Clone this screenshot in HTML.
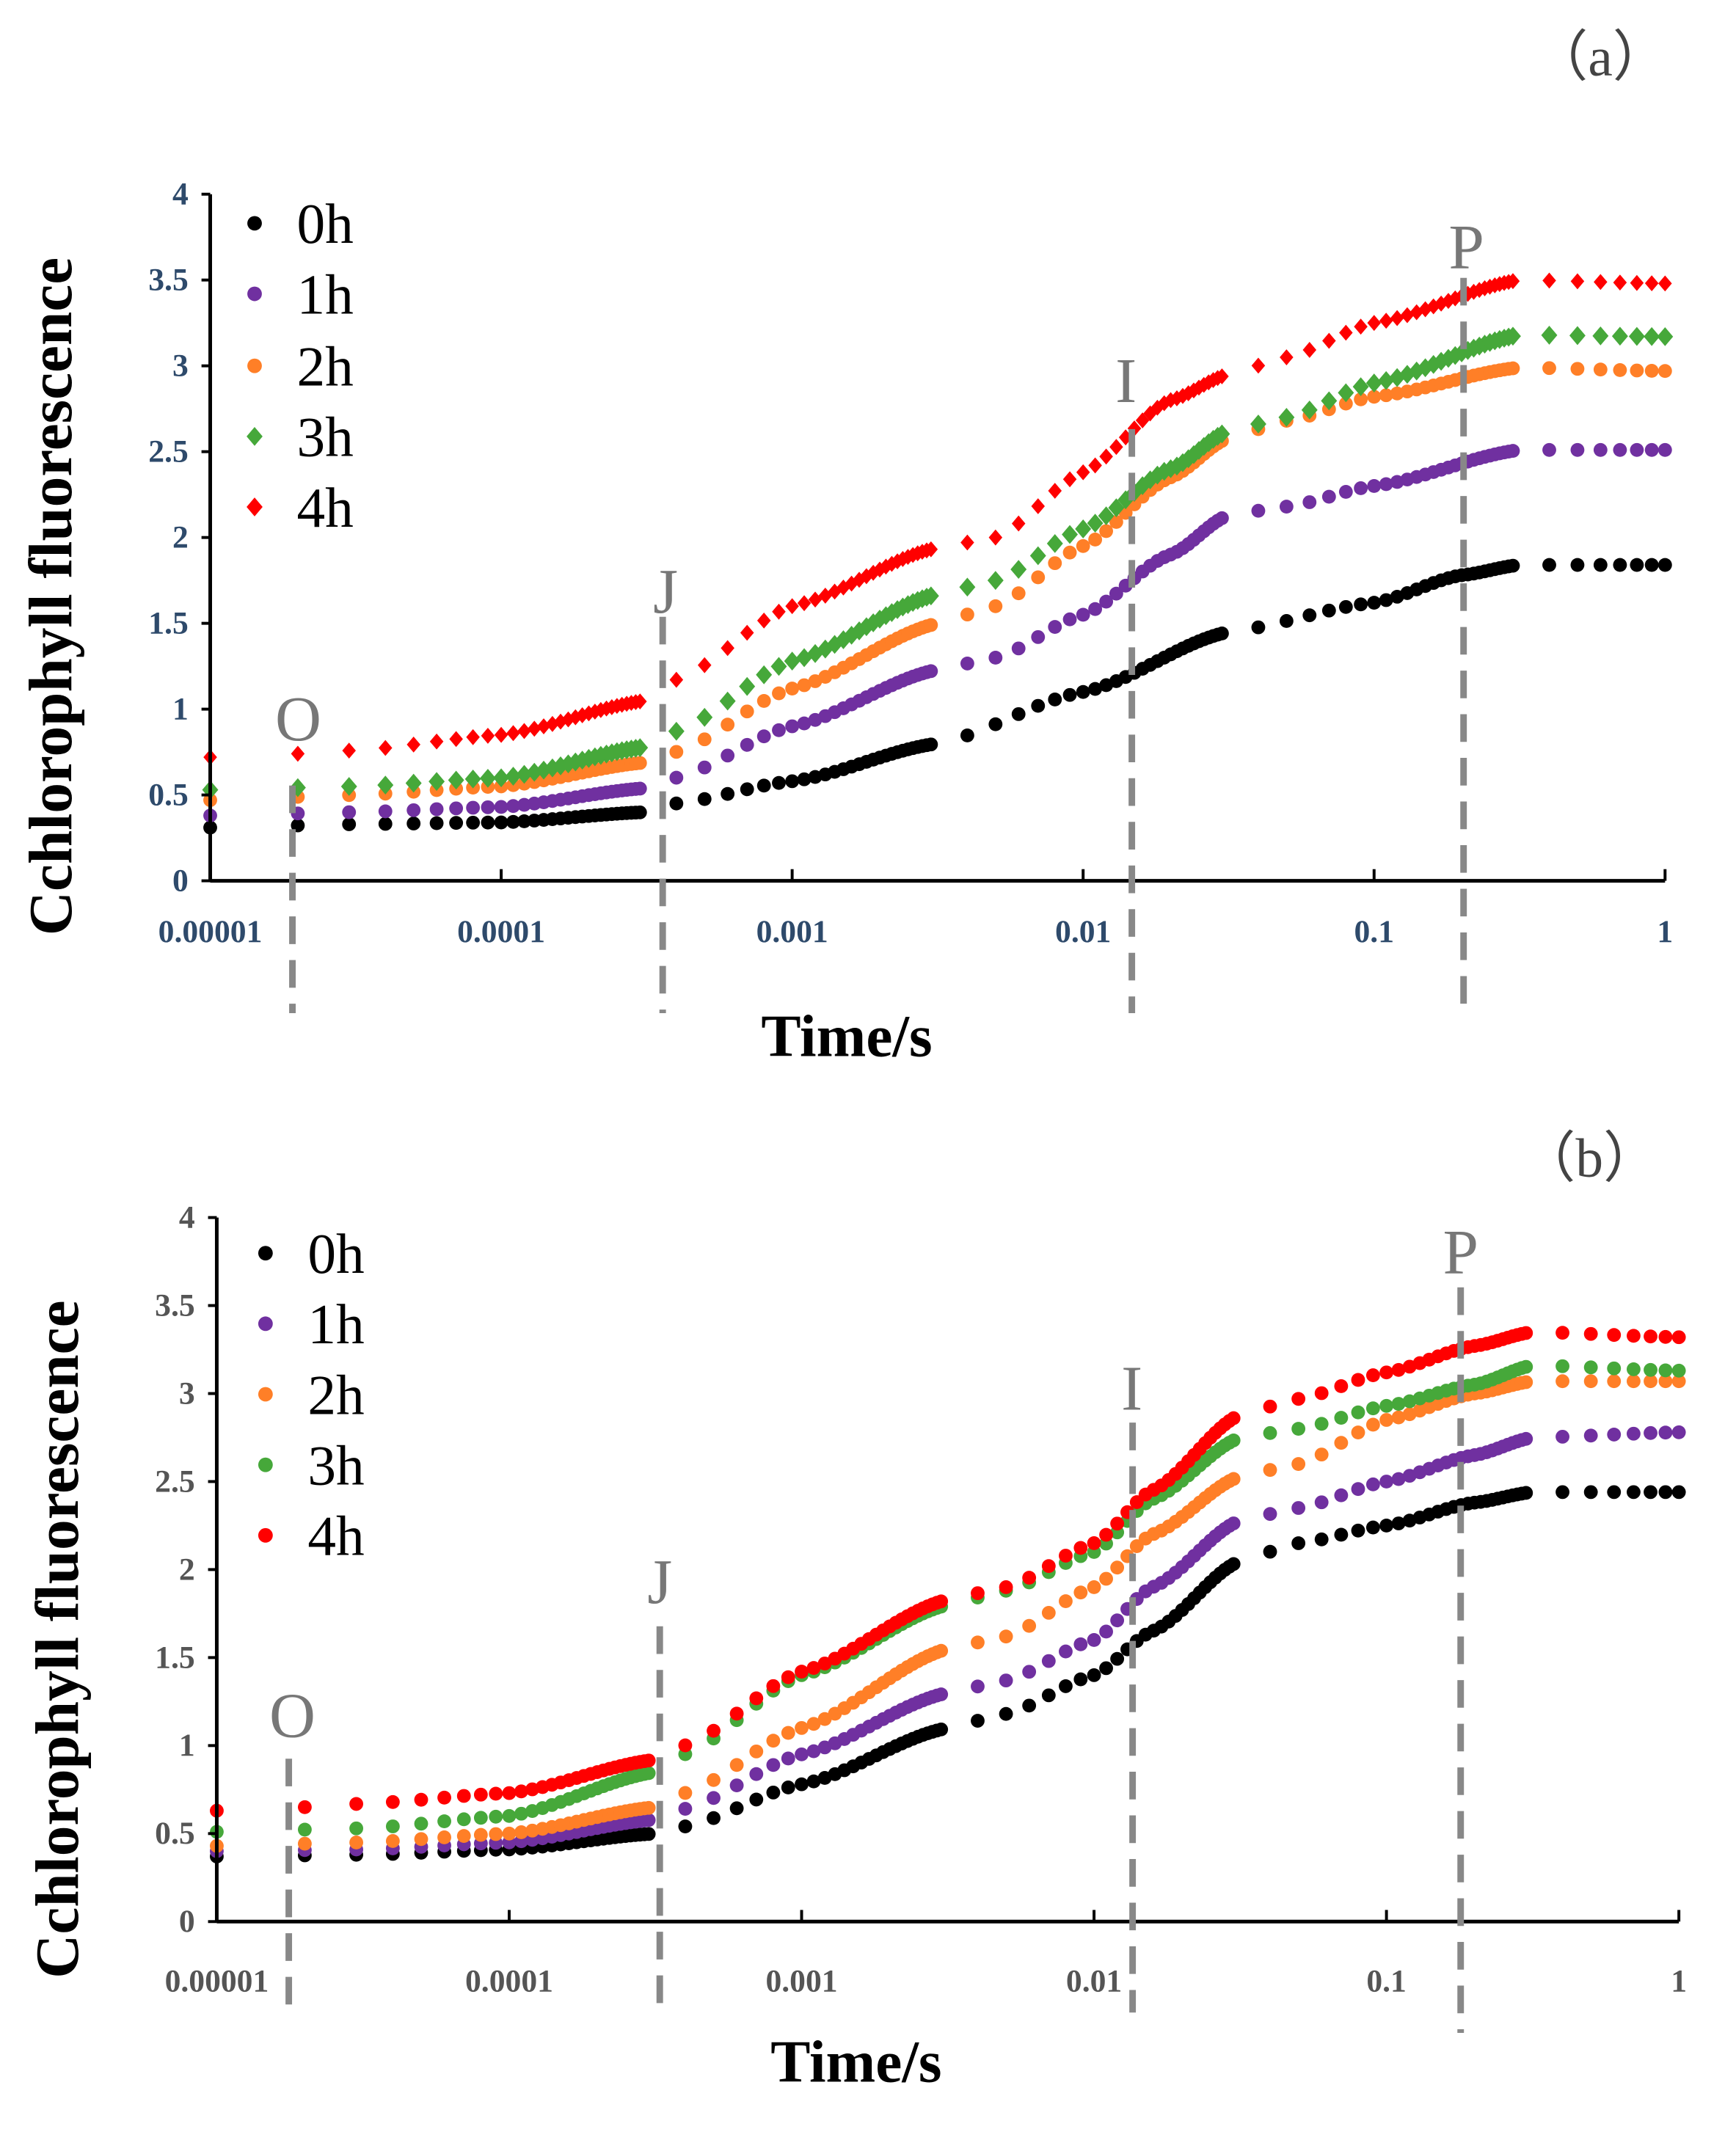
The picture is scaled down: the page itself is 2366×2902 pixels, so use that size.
<!DOCTYPE html>
<html><head><meta charset="utf-8"><style>
html,body{margin:0;padding:0;background:#fff;}
svg{display:block;}
</style></head><body>
<svg width="2366" height="2902" xmlns="http://www.w3.org/2000/svg" font-family="Liberation Serif, serif"><g id="s" transform="scale(0.9914)"></g></svg>
<script>
const S=document.getElementById('s');let h='';
const cols=['#000000','#7030a0','#ff7f27','#46a83a','#ff0000'];
const T=[];
for(let i=1;i<=30;i++)T.push(i*1e-5);
for(let i=4;i<=30;i++)T.push(i*1e-4);
for(let i=4;i<=30;i++)T.push(i*1e-3);
for(let i=4;i<=30;i++)T.push(i*1e-2);
for(let i=4;i<=10;i++)T.push(i*1e-1);
function interp(k,x){for(let i=0;i<k.length-1;i++){if(x<=k[i+1][0]){const a=k[i],b=k[i+1];let f=(x-a[0])/(b[0]-a[0]);f=f*f*(3-2*f)*0.5+f*0.5;return a[1]+(b[1]-a[1])*f;}}return k[k.length-1][1];}
function P(s){return s.trim().split(',').map(p=>p.split(':').map(Number));}
const A=[P("-5:0.31,-4.5:0.33,-4:0.34,-3.5:0.40,-3.4:0.45,-3:0.58,-2.5:0.80,-2:1.10,-1.5:1.45,-1:1.62,-0.7:1.78,-0.5:1.84,0:1.84"),
P("-5:0.38,-4.5:0.40,-4:0.43,-3.5:0.54,-3.4:0.60,-3:0.90,-2.5:1.23,-2.3:1.30,-2:1.55,-1.7:1.90,-1.5:2.13,-1.3:2.18,-1:2.30,-0.5:2.51,0:2.51"),
P("-5:0.47,-4.5:0.50,-4:0.55,-3.5:0.69,-3.4:0.75,-3:1.12,-2.5:1.50,-2.3:1.60,-2:1.95,-1.7:2.35,-1.5:2.58,-1.3:2.68,-1:2.82,-0.5:2.99,0:2.97"),
P("-5:0.53,-4.5:0.55,-4:0.60,-3.5:0.78,-3.4:0.87,-3:1.28,-2.5:1.67,-2.3:1.75,-2:2.05,-1.7:2.40,-1.5:2.62,-1.3:2.70,-1:2.90,-0.5:3.18,0:3.17"),
P("-5:0.72,-4.7:0.74,-4.5:0.76,-4:0.85,-3.5:1.05,-3.4:1.17,-3:1.60,-2.5:1.94,-2.3:2.0,-2:2.38,-1.7:2.80,-1.5:2.95,-1.3:3.05,-1:3.25,-0.5:3.50,0:3.48")];
const B=[P("-5:0.37,-4.5:0.38,-4:0.41,-3.5:0.50,-3.4:0.54,-3:0.78,-2.5:1.10,-2.3:1.18,-2:1.40,-1.8:1.65,-1.5:2.05,-1.3:2.15,-1:2.25,-0.7:2.38,-0.5:2.44,0:2.44"),
P("-5:0.40,-4.5:0.41,-4:0.45,-3.5:0.58,-3.4:0.64,-3:0.95,-2.5:1.30,-2.3:1.37,-2:1.60,-1.8:1.90,-1.5:2.28,-1.3:2.35,-1:2.50,-0.7:2.65,-0.5:2.75,0:2.78"),
P("-5:0.43,-4.5:0.45,-4:0.50,-3.5:0.65,-3.4:0.73,-3:1.10,-2.5:1.55,-2.3:1.62,-2:1.90,-1.8:2.20,-1.5:2.53,-1.3:2.60,-1:2.85,-0.7:3.0,-0.5:3.07,0:3.07"),
P("-5:0.51,-4.5:0.53,-4:0.60,-3.5:0.85,-3.4:0.95,-3:1.40,-2.5:1.80,-2.3:1.88,-2:2.10,-1.8:2.40,-1.5:2.75,-1.3:2.80,-1:2.93,-0.7:3.05,-0.5:3.16,0:3.13"),
P("-5:0.63,-4.7:0.65,-4.5:0.67,-4:0.73,-3.5:0.92,-3.4:1.00,-3:1.42,-2.5:1.83,-2.3:1.90,-2:2.15,-1.8:2.45,-1.5:2.88,-1.3:2.97,-1:3.12,-0.7:3.27,-0.5:3.35,0:3.32")];
function panel(c){
 const X=t=>c.x0+(Math.log10(t)+5)*c.dec, Y=v=>c.y0-v*2*c.per;
 c.data.forEach((k,si)=>{T.forEach(t=>{const x=X(t),y=Y(interp(k,Math.log10(t)));
  if(c.diam&&si>=3){const r=si==3?13:11;h+=`<polygon points="${x},${y-r} ${x+r*0.85},${y} ${x},${y+r} ${x-r*0.85},${y}" fill="${cols[si]}"/>`;}
  else h+=`<circle cx="${x}" cy="${y}" r="9.5" fill="${cols[si]}"/>`;});});
 h+=`<line x1="${c.x0}" y1="${c.y0}" x2="${c.x0+5*c.dec}" y2="${c.y0}" stroke="#000" stroke-width="5"/>`;
 h+=`<line x1="${c.x0}" y1="${c.y0}" x2="${c.x0}" y2="${c.y0-8*c.per}" stroke="#000" stroke-width="5"/>`;
 const xl=['0.00001','0.0001','0.001','0.01','0.1','1'];
 for(let i=0;i<=5;i++){const x=c.x0+i*c.dec;h+=`<line x1="${x}" y1="${c.y0}" x2="${x}" y2="${c.y0-16}" stroke="#000" stroke-width="4"/>`;
  h+=`<text x="${x}" y="${c.xly}" font-size="44" font-weight="bold" fill="${c.tc}" text-anchor="middle">${xl[i]}</text>`;}
 for(let i=0;i<=8;i++){const y=c.y0-i*c.per;h+=`<line x1="${c.x0-12}" y1="${y}" x2="${c.x0}" y2="${y}" stroke="#000" stroke-width="4"/>`;
  h+=`<text x="${c.x0-30}" y="${y+14}" font-size="44" font-weight="bold" fill="${c.tc}" text-anchor="end">${i/2}</text>`;}
 c.dl.forEach(d=>{h+=`<line x1="${d[0]}" y1="${d[1]}" x2="${d[0]}" y2="${d[2]}" stroke="#888" stroke-width="9" stroke-dasharray="38,22"/>`;
  h+=`<text x="${d[4]}" y="${d[5]}" font-size="88" fill="#777" text-anchor="middle">${d[3]}</text>`;});
 ['0h','1h','2h','3h','4h'].forEach((l,i)=>{const y=c.ly[i];
  if(c.diam&&i>=3)h+=`<polygon points="${c.lx},${y-13} ${c.lx+11},${y} ${c.lx},${y+13} ${c.lx-11},${y}" fill="${cols[i]}"/>`;
  else h+=`<circle cx="${c.lx}" cy="${y}" r="10" fill="${cols[i]}"/>`;
  h+=`<text x="${c.lx+58}" y="${y+27}" font-size="78">${l}</text>`;});
 h+=`<text transform="translate(${c.ytx},${c.yty}) rotate(-90)" font-size="84" font-weight="bold" text-anchor="middle">Cchlorophyll fluorescence</text>`;
 h+=`<text x="${c.ttx}" y="${c.tty}" font-size="82" font-weight="bold" text-anchor="middle">Time/s</text>`;
 h+=`<text x="${c.lbx}" y="${c.lby}" font-size="76" fill="#444" text-anchor="middle">（${c.lb}）</text>`;
}
panel({x0:289,y0:1211,dec:400,per:118,data:A,diam:true,tc:'#2e4a6b',xly:1295,
 dl:[[402,1080,1393,'O',410,1018],[911,848,1393,'J',915,842],[1556,590,1393,'I',1548,553],[2012,382,1393,'P',2016,369]],
 lx:350,ly:[307,404,503,600,697],ytx:98,yty:820,ttx:1164,tty:1452,lbx:2200,lby:104,lb:'a'});
panel({x0:298,y0:2642,dec:402,per:121,data:B,diam:false,tc:'#555',xly:2738,
 dl:[[397,2418,2757,'O',402,2388],[907,2236,2767,'J',907,2204],[1557,1956,2767,'I',1556,1938],[2008,1770,2795,'P',2008,1751]],
 lx:365,ly:[1723,1820,1917,2014,2111],ytx:107,yty:2254,ttx:1177,tty:2862,lbx:2185,lby:1618,lb:'b'});
S.innerHTML=h;
</script>
</body></html>
